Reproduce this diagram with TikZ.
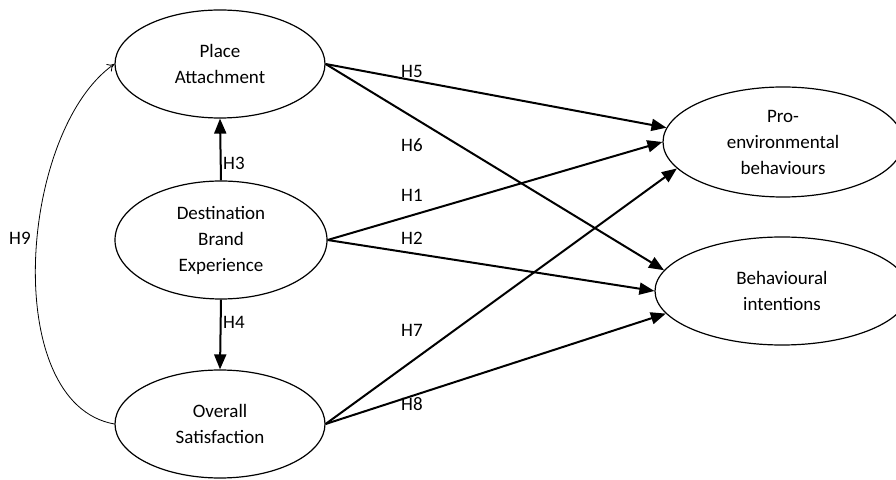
\documentclass[tikz,border=0pt]{standalone}
\usepackage{fontspec}
\setmainfont{Carlito}
\usepackage{tikz}
\usetikzlibrary{shapes.geometric, arrows.meta}

\begin{document}
\begin{tikzpicture}[x=1pt, y=1pt, font=\fontsize{19}{26}\selectfont]
        % Setup the styles for the constructs
        \tikzset{construct/.style={ellipse,
                                   draw,
                                   line width=1.2pt,
                                   inner sep=0pt,
                                   align=center},
                 hyp/.style={line width=2pt,
                             -{Triangle[length=15pt, width=12pt]}},
                 hyplabel/.style={anchor=west, inner sep=0pt}}
        \useasboundingbox (0,0) rectangle (896,479);

        % Draw the constructs
        \node[construct, minimum width=210pt, minimum height=108pt] at (220,415) (place) {Place\\Attachment};
        \node[construct, minimum width=212pt, minimum height=118pt] at (221,239) (brand) {Destination\\Brand\\Experience};
        \node[construct, minimum width=210pt, minimum height=108pt] at (220,55) (satis) {Overall\\Satisfaction};
        \node[construct, minimum width=240pt, minimum height=110pt] at (783,337) (proenv) {Pro-\\environmental\\behaviours};
        \node[construct, minimum width=254pt, minimum height=108pt] at (782,188) (intent) {Behavioural\\intentions};

        % Connect the constructs with arrows
        \draw[hyp] (place.east) -- (proenv.173);
        \draw[hyp] (place.east) -- (intent.170);
        \draw[hyp] (brand.east) -- (proenv.180);
        \draw[hyp] (brand.east) -- (intent.180);
        \draw[hyp] (satis.east) -- (proenv.194);
        \draw[hyp] (satis.east) -- (intent.191);
        \draw[hyp] (brand.north) -- (place.south);
        \draw[hyp] (brand.south) -- (satis.north);
        \draw[line width=0.8pt, -{To[length=7pt, width=9pt]}]
            (satis.west) to[out=170, in=215, looseness=0.83] (place.west);

        % Hypothesis labels
        \node[hyplabel] at (401,408) (h5) {H5};
        \node[hyplabel] at (401,334) (h6) {H6};
        \node[hyplabel] at (401,284) (h1) {H1};
        \node[hyplabel] at (401,241) (h2) {H2};
        \node[hyplabel] at (401,149) (h7) {H7};
        \node[hyplabel] at (401,75) (h8) {H8};
        \node[hyplabel] at (223,316) (h3) {H3};
        \node[hyplabel] at (223,157) (h4) {H4};
        \node[hyplabel] at (9,241) (h9) {H9};
\end{tikzpicture}
\end{document}
